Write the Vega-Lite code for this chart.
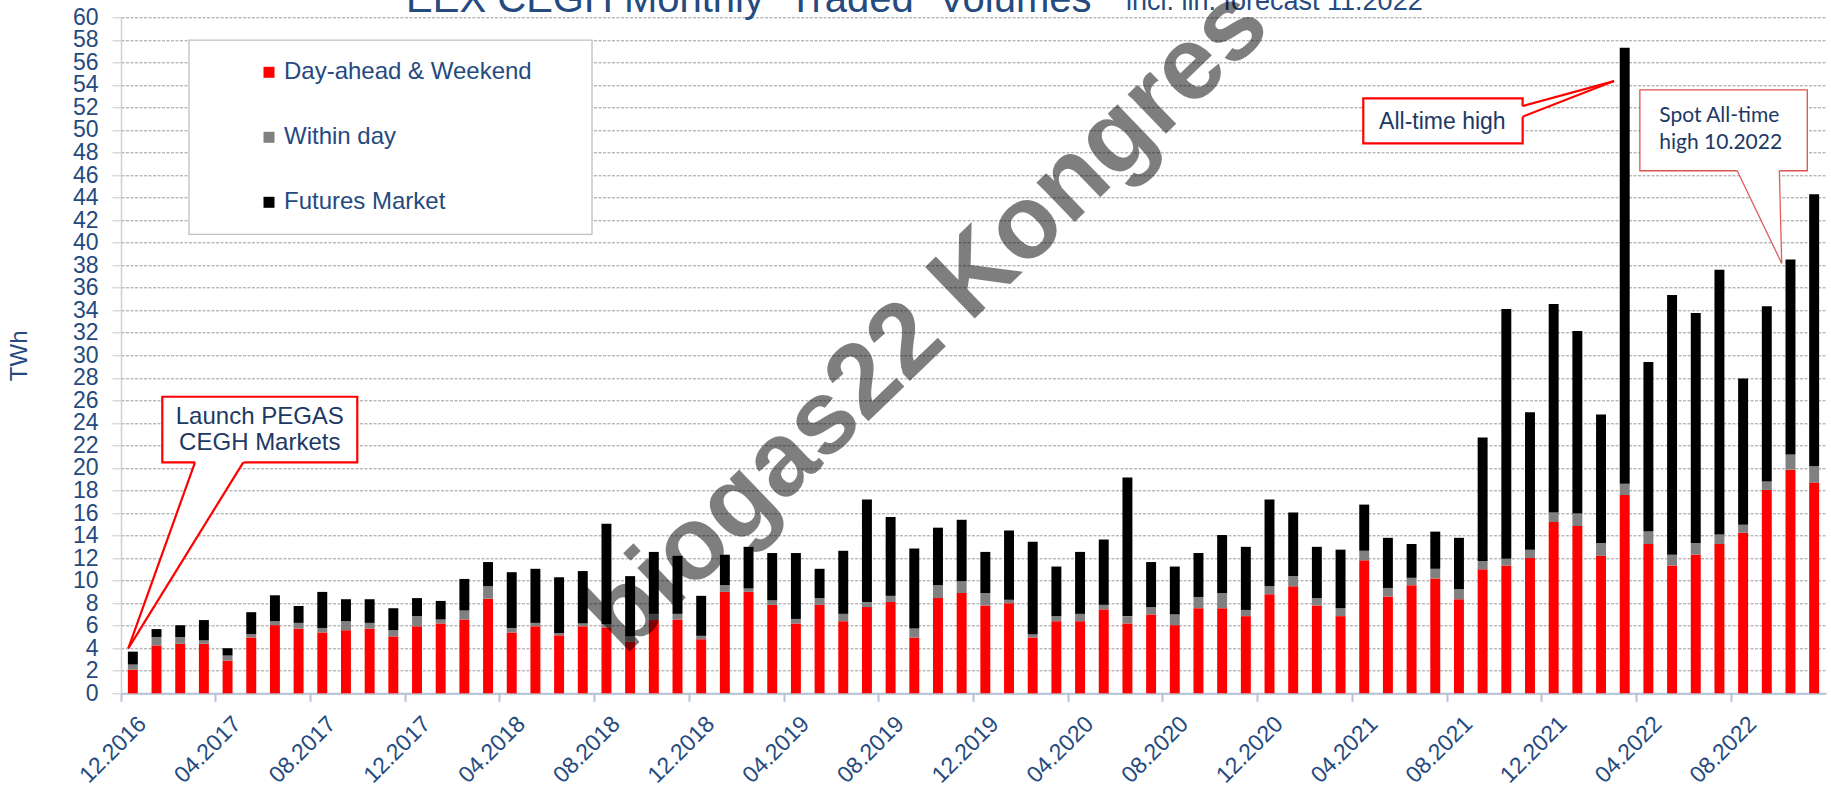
{
  "$schema": "https://vega.github.io/schema/vega-lite/v6.json",
  "width": 1705,
  "height": 676,
  "autosize": {"type": "none"},
  "padding": {"left": 121, "top": 17.3, "right": 5, "bottom": 95.7},
  "background": "white",
  "config": {
    "view": {"stroke": null},
    "font": "Liberation Sans",
    "axis": {"labelFont": "Liberation Sans", "titleFont": "Liberation Sans"},
    "legend": {"labelFont": "Liberation Sans"}
  },
  "resolve": {"scale": {"x": "independent"}},
  "layer": [
    {
      "data": {"values": [
        {"m":"12.2016","s":"Day-ahead & Weekend","k":1,"v":2.1},{"m":"12.2016","s":"Within day","k":2,"v":0.45},{"m":"12.2016","s":"Futures Market","k":3,"v":1.15},
        {"m":"01.2017","s":"Day-ahead & Weekend","k":1,"v":4.25},{"m":"01.2017","s":"Within day","k":2,"v":0.75},{"m":"01.2017","s":"Futures Market","k":3,"v":0.7},
        {"m":"02.2017","s":"Day-ahead & Weekend","k":1,"v":4.4},{"m":"02.2017","s":"Within day","k":2,"v":0.6},{"m":"02.2017","s":"Futures Market","k":3,"v":1.05},
        {"m":"03.2017","s":"Day-ahead & Weekend","k":1,"v":4.4},{"m":"03.2017","s":"Within day","k":2,"v":0.3},{"m":"03.2017","s":"Futures Market","k":3,"v":1.8},
        {"m":"04.2017","s":"Day-ahead & Weekend","k":1,"v":2.9},{"m":"04.2017","s":"Within day","k":2,"v":0.45},{"m":"04.2017","s":"Futures Market","k":3,"v":0.65},
        {"m":"05.2017","s":"Day-ahead & Weekend","k":1,"v":4.95},{"m":"05.2017","s":"Within day","k":2,"v":0.3},{"m":"05.2017","s":"Futures Market","k":3,"v":1.95},
        {"m":"06.2017","s":"Day-ahead & Weekend","k":1,"v":6.05},{"m":"06.2017","s":"Within day","k":2,"v":0.35},{"m":"06.2017","s":"Futures Market","k":3,"v":2.3},
        {"m":"07.2017","s":"Day-ahead & Weekend","k":1,"v":5.75},{"m":"07.2017","s":"Within day","k":2,"v":0.5},{"m":"07.2017","s":"Futures Market","k":3,"v":1.5},
        {"m":"08.2017","s":"Day-ahead & Weekend","k":1,"v":5.4},{"m":"08.2017","s":"Within day","k":2,"v":0.4},{"m":"08.2017","s":"Futures Market","k":3,"v":3.2},
        {"m":"09.2017","s":"Day-ahead & Weekend","k":1,"v":5.6},{"m":"09.2017","s":"Within day","k":2,"v":0.8},{"m":"09.2017","s":"Futures Market","k":3,"v":1.95},
        {"m":"10.2017","s":"Day-ahead & Weekend","k":1,"v":5.75},{"m":"10.2017","s":"Within day","k":2,"v":0.5},{"m":"10.2017","s":"Futures Market","k":3,"v":2.1},
        {"m":"11.2017","s":"Day-ahead & Weekend","k":1,"v":5.05},{"m":"11.2017","s":"Within day","k":2,"v":0.55},{"m":"11.2017","s":"Futures Market","k":3,"v":1.95},
        {"m":"12.2017","s":"Day-ahead & Weekend","k":1,"v":5.95},{"m":"12.2017","s":"Within day","k":2,"v":0.9},{"m":"12.2017","s":"Futures Market","k":3,"v":1.6},
        {"m":"01.2018","s":"Day-ahead & Weekend","k":1,"v":6.2},{"m":"01.2018","s":"Within day","k":2,"v":0.35},{"m":"01.2018","s":"Futures Market","k":3,"v":1.65},
        {"m":"02.2018","s":"Day-ahead & Weekend","k":1,"v":6.55},{"m":"02.2018","s":"Within day","k":2,"v":0.8},{"m":"02.2018","s":"Futures Market","k":3,"v":2.8},
        {"m":"03.2018","s":"Day-ahead & Weekend","k":1,"v":8.4},{"m":"03.2018","s":"Within day","k":2,"v":1.1},{"m":"03.2018","s":"Futures Market","k":3,"v":2.15},
        {"m":"04.2018","s":"Day-ahead & Weekend","k":1,"v":5.4},{"m":"04.2018","s":"Within day","k":2,"v":0.4},{"m":"04.2018","s":"Futures Market","k":3,"v":4.95},
        {"m":"05.2018","s":"Day-ahead & Weekend","k":1,"v":5.95},{"m":"05.2018","s":"Within day","k":2,"v":0.3},{"m":"05.2018","s":"Futures Market","k":3,"v":4.8},
        {"m":"06.2018","s":"Day-ahead & Weekend","k":1,"v":5.15},{"m":"06.2018","s":"Within day","k":2,"v":0.2},{"m":"06.2018","s":"Futures Market","k":3,"v":4.95},
        {"m":"07.2018","s":"Day-ahead & Weekend","k":1,"v":5.95},{"m":"07.2018","s":"Within day","k":2,"v":0.25},{"m":"07.2018","s":"Futures Market","k":3,"v":4.65},
        {"m":"08.2018","s":"Day-ahead & Weekend","k":1,"v":5.85},{"m":"08.2018","s":"Within day","k":2,"v":0.3},{"m":"08.2018","s":"Futures Market","k":3,"v":8.9},
        {"m":"09.2018","s":"Day-ahead & Weekend","k":1,"v":4.6},{"m":"09.2018","s":"Within day","k":2,"v":0.45},{"m":"09.2018","s":"Futures Market","k":3,"v":5.35},
        {"m":"10.2018","s":"Day-ahead & Weekend","k":1,"v":6.5},{"m":"10.2018","s":"Within day","k":2,"v":0.55},{"m":"10.2018","s":"Futures Market","k":3,"v":5.5},
        {"m":"11.2018","s":"Day-ahead & Weekend","k":1,"v":6.55},{"m":"11.2018","s":"Within day","k":2,"v":0.5},{"m":"11.2018","s":"Futures Market","k":3,"v":5.15},
        {"m":"12.2018","s":"Day-ahead & Weekend","k":1,"v":4.8},{"m":"12.2018","s":"Within day","k":2,"v":0.3},{"m":"12.2018","s":"Futures Market","k":3,"v":3.55},
        {"m":"01.2019","s":"Day-ahead & Weekend","k":1,"v":9.0},{"m":"01.2019","s":"Within day","k":2,"v":0.6},{"m":"01.2019","s":"Futures Market","k":3,"v":2.7},
        {"m":"02.2019","s":"Day-ahead & Weekend","k":1,"v":9.0},{"m":"02.2019","s":"Within day","k":2,"v":0.3},{"m":"02.2019","s":"Futures Market","k":3,"v":3.7},
        {"m":"03.2019","s":"Day-ahead & Weekend","k":1,"v":7.85},{"m":"03.2019","s":"Within day","k":2,"v":0.4},{"m":"03.2019","s":"Futures Market","k":3,"v":4.2},
        {"m":"04.2019","s":"Day-ahead & Weekend","k":1,"v":6.2},{"m":"04.2019","s":"Within day","k":2,"v":0.4},{"m":"04.2019","s":"Futures Market","k":3,"v":5.85},
        {"m":"05.2019","s":"Day-ahead & Weekend","k":1,"v":7.85},{"m":"05.2019","s":"Within day","k":2,"v":0.6},{"m":"05.2019","s":"Futures Market","k":3,"v":2.6},
        {"m":"06.2019","s":"Day-ahead & Weekend","k":1,"v":6.4},{"m":"06.2019","s":"Within day","k":2,"v":0.65},{"m":"06.2019","s":"Futures Market","k":3,"v":5.6},
        {"m":"07.2019","s":"Day-ahead & Weekend","k":1,"v":7.65},{"m":"07.2019","s":"Within day","k":2,"v":0.45},{"m":"07.2019","s":"Futures Market","k":3,"v":9.1},
        {"m":"08.2019","s":"Day-ahead & Weekend","k":1,"v":8.1},{"m":"08.2019","s":"Within day","k":2,"v":0.55},{"m":"08.2019","s":"Futures Market","k":3,"v":7.0},
        {"m":"09.2019","s":"Day-ahead & Weekend","k":1,"v":4.95},{"m":"09.2019","s":"Within day","k":2,"v":0.8},{"m":"09.2019","s":"Futures Market","k":3,"v":7.1},
        {"m":"10.2019","s":"Day-ahead & Weekend","k":1,"v":8.45},{"m":"10.2019","s":"Within day","k":2,"v":1.15},{"m":"10.2019","s":"Futures Market","k":3,"v":5.1},
        {"m":"11.2019","s":"Day-ahead & Weekend","k":1,"v":8.9},{"m":"11.2019","s":"Within day","k":2,"v":1.05},{"m":"11.2019","s":"Futures Market","k":3,"v":5.45},
        {"m":"12.2019","s":"Day-ahead & Weekend","k":1,"v":7.8},{"m":"12.2019","s":"Within day","k":2,"v":1.1},{"m":"12.2019","s":"Futures Market","k":3,"v":3.65},
        {"m":"01.2020","s":"Day-ahead & Weekend","k":1,"v":8.0},{"m":"01.2020","s":"Within day","k":2,"v":0.3},{"m":"01.2020","s":"Futures Market","k":3,"v":6.15},
        {"m":"02.2020","s":"Day-ahead & Weekend","k":1,"v":4.95},{"m":"02.2020","s":"Within day","k":2,"v":0.3},{"m":"02.2020","s":"Futures Market","k":3,"v":8.2},
        {"m":"03.2020","s":"Day-ahead & Weekend","k":1,"v":6.4},{"m":"03.2020","s":"Within day","k":2,"v":0.45},{"m":"03.2020","s":"Futures Market","k":3,"v":4.4},
        {"m":"04.2020","s":"Day-ahead & Weekend","k":1,"v":6.4},{"m":"04.2020","s":"Within day","k":2,"v":0.65},{"m":"04.2020","s":"Futures Market","k":3,"v":5.5},
        {"m":"05.2020","s":"Day-ahead & Weekend","k":1,"v":7.45},{"m":"05.2020","s":"Within day","k":2,"v":0.4},{"m":"05.2020","s":"Futures Market","k":3,"v":5.8},
        {"m":"06.2020","s":"Day-ahead & Weekend","k":1,"v":6.2},{"m":"06.2020","s":"Within day","k":2,"v":0.65},{"m":"06.2020","s":"Futures Market","k":3,"v":12.3},
        {"m":"07.2020","s":"Day-ahead & Weekend","k":1,"v":7.0},{"m":"07.2020","s":"Within day","k":2,"v":0.65},{"m":"07.2020","s":"Futures Market","k":3,"v":4.0},
        {"m":"08.2020","s":"Day-ahead & Weekend","k":1,"v":6.05},{"m":"08.2020","s":"Within day","k":2,"v":0.95},{"m":"08.2020","s":"Futures Market","k":3,"v":4.25},
        {"m":"09.2020","s":"Day-ahead & Weekend","k":1,"v":7.55},{"m":"09.2020","s":"Within day","k":2,"v":1.0},{"m":"09.2020","s":"Futures Market","k":3,"v":3.9},
        {"m":"10.2020","s":"Day-ahead & Weekend","k":1,"v":7.55},{"m":"10.2020","s":"Within day","k":2,"v":1.35},{"m":"10.2020","s":"Futures Market","k":3,"v":5.15},
        {"m":"11.2020","s":"Day-ahead & Weekend","k":1,"v":6.85},{"m":"11.2020","s":"Within day","k":2,"v":0.55},{"m":"11.2020","s":"Futures Market","k":3,"v":5.6},
        {"m":"12.2020","s":"Day-ahead & Weekend","k":1,"v":8.8},{"m":"12.2020","s":"Within day","k":2,"v":0.7},{"m":"12.2020","s":"Futures Market","k":3,"v":7.7},
        {"m":"01.2021","s":"Day-ahead & Weekend","k":1,"v":9.5},{"m":"01.2021","s":"Within day","k":2,"v":0.9},{"m":"01.2021","s":"Futures Market","k":3,"v":5.65},
        {"m":"02.2021","s":"Day-ahead & Weekend","k":1,"v":7.8},{"m":"02.2021","s":"Within day","k":2,"v":0.65},{"m":"02.2021","s":"Futures Market","k":3,"v":4.55},
        {"m":"03.2021","s":"Day-ahead & Weekend","k":1,"v":6.85},{"m":"03.2021","s":"Within day","k":2,"v":0.7},{"m":"03.2021","s":"Futures Market","k":3,"v":5.2},
        {"m":"04.2021","s":"Day-ahead & Weekend","k":1,"v":11.8},{"m":"04.2021","s":"Within day","k":2,"v":0.85},{"m":"04.2021","s":"Futures Market","k":3,"v":4.1},
        {"m":"05.2021","s":"Day-ahead & Weekend","k":1,"v":8.6},{"m":"05.2021","s":"Within day","k":2,"v":0.75},{"m":"05.2021","s":"Futures Market","k":3,"v":4.45},
        {"m":"06.2021","s":"Day-ahead & Weekend","k":1,"v":9.6},{"m":"06.2021","s":"Within day","k":2,"v":0.65},{"m":"06.2021","s":"Futures Market","k":3,"v":3.0},
        {"m":"07.2021","s":"Day-ahead & Weekend","k":1,"v":10.2},{"m":"07.2021","s":"Within day","k":2,"v":0.85},{"m":"07.2021","s":"Futures Market","k":3,"v":3.3},
        {"m":"08.2021","s":"Day-ahead & Weekend","k":1,"v":8.35},{"m":"08.2021","s":"Within day","k":2,"v":0.9},{"m":"08.2021","s":"Futures Market","k":3,"v":4.55},
        {"m":"09.2021","s":"Day-ahead & Weekend","k":1,"v":11.0},{"m":"09.2021","s":"Within day","k":2,"v":0.75},{"m":"09.2021","s":"Futures Market","k":3,"v":10.95},
        {"m":"10.2021","s":"Day-ahead & Weekend","k":1,"v":11.35},{"m":"10.2021","s":"Within day","k":2,"v":0.6},{"m":"10.2021","s":"Futures Market","k":3,"v":22.15},
        {"m":"11.2021","s":"Day-ahead & Weekend","k":1,"v":12.0},{"m":"11.2021","s":"Within day","k":2,"v":0.75},{"m":"11.2021","s":"Futures Market","k":3,"v":12.2},
        {"m":"12.2021","s":"Day-ahead & Weekend","k":1,"v":15.2},{"m":"12.2021","s":"Within day","k":2,"v":0.85},{"m":"12.2021","s":"Futures Market","k":3,"v":18.5},
        {"m":"01.2022","s":"Day-ahead & Weekend","k":1,"v":14.85},{"m":"01.2022","s":"Within day","k":2,"v":1.1},{"m":"01.2022","s":"Futures Market","k":3,"v":16.2},
        {"m":"02.2022","s":"Day-ahead & Weekend","k":1,"v":12.2},{"m":"02.2022","s":"Within day","k":2,"v":1.15},{"m":"02.2022","s":"Futures Market","k":3,"v":11.4},
        {"m":"03.2022","s":"Day-ahead & Weekend","k":1,"v":17.6},{"m":"03.2022","s":"Within day","k":2,"v":1.0},{"m":"03.2022","s":"Futures Market","k":3,"v":38.7},
        {"m":"04.2022","s":"Day-ahead & Weekend","k":1,"v":13.25},{"m":"04.2022","s":"Within day","k":2,"v":1.1},{"m":"04.2022","s":"Futures Market","k":3,"v":15.05},
        {"m":"05.2022","s":"Day-ahead & Weekend","k":1,"v":11.35},{"m":"05.2022","s":"Within day","k":2,"v":0.95},{"m":"05.2022","s":"Futures Market","k":3,"v":23.05},
        {"m":"06.2022","s":"Day-ahead & Weekend","k":1,"v":12.3},{"m":"06.2022","s":"Within day","k":2,"v":1.05},{"m":"06.2022","s":"Futures Market","k":3,"v":20.4},
        {"m":"07.2022","s":"Day-ahead & Weekend","k":1,"v":13.25},{"m":"07.2022","s":"Within day","k":2,"v":0.85},{"m":"07.2022","s":"Futures Market","k":3,"v":23.5},
        {"m":"08.2022","s":"Day-ahead & Weekend","k":1,"v":14.25},{"m":"08.2022","s":"Within day","k":2,"v":0.7},{"m":"08.2022","s":"Futures Market","k":3,"v":13.0},
        {"m":"09.2022","s":"Day-ahead & Weekend","k":1,"v":18.05},{"m":"09.2022","s":"Within day","k":2,"v":0.75},{"m":"09.2022","s":"Futures Market","k":3,"v":15.55},
        {"m":"10.2022","s":"Day-ahead & Weekend","k":1,"v":19.85},{"m":"10.2022","s":"Within day","k":2,"v":1.35},{"m":"10.2022","s":"Futures Market","k":3,"v":17.3},
        {"m":"11.2022","s":"Day-ahead & Weekend","k":1,"v":18.7},{"m":"11.2022","s":"Within day","k":2,"v":1.45},{"m":"11.2022","s":"Futures Market","k":3,"v":24.15}
      ]},
      "mark": {"type": "bar", "width": {"band": 0.42}},
      "encoding": {
        "x": {
          "field": "m", "type": "ordinal", "sort": null,
          "scale": {"paddingInner": 0, "paddingOuter": 0},
          "axis": {
            "title": null,
            "values": ["12.2016","04.2017","08.2017","12.2017","04.2018","08.2018","12.2018","04.2019","08.2019","12.2019","04.2020","08.2020","12.2020","04.2021","08.2021","12.2021","04.2022","08.2022"],
            "bandPosition": 0,
            "labelAngle": -45,
            "labelAlign": "right",
            "labelBaseline": "top",
            "labelFontSize": 23,
            "labelColor": "#254A7E",
            "labelPadding": 11,
            "labelOffset": 2,
            "labelOverlap": false,
            "tickSize": 8,
            "tickWidth": 2,
            "tickColor": "#B4C2D6",
            "domainColor": "#B4C2D6",
            "domainWidth": 2,
            "grid": false
          }
        },
        "y": {
          "field": "v", "type": "quantitative", "stack": "zero",
          "scale": {"domain": [0, 60], "nice": false},
          "title": "TWh",
          "axis": {
            "values": [0,2,4,6,8,10,12,14,16,18,20,22,24,26,28,30,32,34,36,38,40,42,44,46,48,50,52,54,56,58,60],
            "tickCount": 40,
            "labelFontSize": 23,
            "labelColor": "#254A7E",
            "labelPadding": 14,
            "labelOverlap": false,
            "tickSize": 9,
            "tickColor": "#C8C8C8",
            "domainColor": "#D0D0D0",
            "domainWidth": 1.5,
            "grid": true,
            "gridColor": "#9A9A9A",
            "gridDash": [3, 1.5],
            "gridWidth": 1,
            "titleFontSize": 24,
            "titleFontWeight": "normal",
            "titleColor": "#254A7E",
            "titleX": -102,
            "titleY": 338,
            "titleAngle": -90,
            "titleAlign": "center",
            "titleBaseline": "middle"
          }
        },
        "color": {
          "field": "s", "type": "nominal",
          "scale": {"domain": ["Day-ahead & Weekend", "Within day", "Futures Market"], "range": ["#FF0000", "#808080", "#000000"]},
          "legend": {
            "orient": "none",
            "legendX": 136,
            "legendY": 43,
            "direction": "vertical",
            "title": null,
            "padding": 0,
            "labelFontSize": 24,
            "labelColor": "#254A7E",
            "labelLimit": 0,
            "labelOffset": 3,
            "symbolType": "square",
            "symbolSize": 121,
            "symbolStrokeWidth": 0,
            "symbolOpacity": 1,
            "rowPadding": 41
          }
        },
        "order": {"field": "k", "type": "quantitative"}
      }
    },
    {
      "data": {"values": [{"x": 2.87, "x2": 19.89, "y": 57.98, "y2": 40.74}]},
      "mark": {"type": "rect", "fill": "white", "stroke": "#C0C0C0", "strokeWidth": 1.3},
      "encoding": {
        "x": {"field": "x", "type": "quantitative", "scale": {"domain": [0, 72], "nice": false, "zero": false}, "axis": null},
        "x2": {"field": "x2"},
        "y": {"field": "y", "type": "quantitative", "scale": {"domain": [0, 60], "nice": false}, "title": "TWh"},
        "y2": {"field": "y2"}
      }
    },
    {
      "data": {"values": [{"x": 1.744, "x2": 9.978, "y": 26.32, "y2": 20.50}]},
      "mark": {"type": "rect", "fill": "white", "stroke": "#FF0000", "strokeWidth": 2.2},
      "encoding": {
        "x": {"field": "x", "type": "quantitative", "scale": {"domain": [0, 72], "nice": false, "zero": false}, "axis": null},
        "x2": {"field": "x2"},
        "y": {"field": "y", "type": "quantitative", "scale": {"domain": [0, 60], "nice": false}, "title": "TWh"},
        "y2": {"field": "y2"}
      }
    },
    {
      "data": {"values": [{"y": 20.75, "x": 3.168, "x2": 5.238}, {"y": 3.99, "x": 0.308, "x2": 0.308}]},
      "mark": {"type": "area", "orient": "horizontal", "fill": "white", "opacity": 1},
      "encoding": {
        "y": {"field": "y", "type": "quantitative", "scale": {"domain": [0, 60], "nice": false}, "title": "TWh"},
        "x": {"field": "x", "type": "quantitative", "scale": {"domain": [0, 72], "nice": false, "zero": false}, "axis": null},
        "x2": {"field": "x2"}
      }
    },
    {
      "data": {"values": [{"x": 3.125, "y": 20.50, "x2": 0.308, "y2": 3.99}, {"x": 5.164, "y": 20.50, "x2": 0.308, "y2": 3.99}]},
      "mark": {"type": "rule", "stroke": "#FF0000", "strokeWidth": 2.2},
      "encoding": {
        "x": {"field": "x", "type": "quantitative", "scale": {"domain": [0, 72], "nice": false, "zero": false}, "axis": null},
        "x2": {"field": "x2"},
        "y": {"field": "y", "type": "quantitative", "scale": {"domain": [0, 60], "nice": false}, "title": "TWh"},
        "y2": {"field": "y2"}
      }
    },
    {
      "data": {"values": [{"x": 5.861, "y": 24.55, "t": "Launch PEGAS"}, {"x": 5.861, "y": 22.19, "t": "CEGH Markets"}]},
      "mark": {"type": "text", "align": "center", "baseline": "middle", "font": "Liberation Sans", "fontSize": 24, "fill": "#203864"},
      "encoding": {
        "x": {"field": "x", "type": "quantitative", "scale": {"domain": [0, 72], "nice": false, "zero": false}, "axis": null},
        "y": {"field": "y", "type": "quantitative", "scale": {"domain": [0, 60], "nice": false}, "title": "TWh"},
        "text": {"field": "t"}
      }
    },
    {
      "data": {"values": [{"x": 52.46, "x2": 59.19, "y": 52.81, "y2": 48.81}]},
      "mark": {"type": "rect", "fill": "white", "stroke": "#FF0000", "strokeWidth": 2.2},
      "encoding": {
        "x": {"field": "x", "type": "quantitative", "scale": {"domain": [0, 72], "nice": false, "zero": false}, "axis": null},
        "x2": {"field": "x2"},
        "y": {"field": "y", "type": "quantitative", "scale": {"domain": [0, 60], "nice": false}, "title": "TWh"},
        "y2": {"field": "y2"}
      }
    },
    {
      "data": {"values": [{"x": 59.09, "y": 51.10, "y2": 52.06}, {"x": 63.05, "y": 54.34, "y2": 54.34}]},
      "mark": {"type": "area", "orient": "vertical", "fill": "white", "opacity": 1},
      "encoding": {
        "x": {"field": "x", "type": "quantitative", "scale": {"domain": [0, 72], "nice": false, "zero": false}, "axis": null},
        "y": {"field": "y", "type": "quantitative", "scale": {"domain": [0, 60], "nice": false}, "title": "TWh"},
        "y2": {"field": "y2"}
      }
    },
    {
      "data": {"values": [{"x": 59.19, "y": 52.12, "x2": 63.05, "y2": 54.34}, {"x": 59.19, "y": 51.18, "x2": 63.05, "y2": 54.34}]},
      "mark": {"type": "rule", "stroke": "#FF0000", "strokeWidth": 2.2},
      "encoding": {
        "x": {"field": "x", "type": "quantitative", "scale": {"domain": [0, 72], "nice": false, "zero": false}, "axis": null},
        "x2": {"field": "x2"},
        "y": {"field": "y", "type": "quantitative", "scale": {"domain": [0, 60], "nice": false}, "title": "TWh"},
        "y2": {"field": "y2"}
      }
    },
    {
      "data": {"values": [{"x": 55.80, "y": 50.73, "t": "All-time high"}]},
      "mark": {"type": "text", "align": "center", "baseline": "middle", "font": "Liberation Sans", "fontSize": 23, "fill": "#203864"},
      "encoding": {
        "x": {"field": "x", "type": "quantitative", "scale": {"domain": [0, 72], "nice": false, "zero": false}, "axis": null},
        "y": {"field": "y", "type": "quantitative", "scale": {"domain": [0, 60], "nice": false}, "title": "TWh"},
        "text": {"field": "t"}
      }
    },
    {
      "data": {"values": [{"x": 64.14, "x2": 71.21, "y": 53.55, "y2": 46.38}]},
      "mark": {"type": "rect", "fill": "white", "stroke": "#D9534F", "strokeWidth": 1.3},
      "encoding": {
        "x": {"field": "x", "type": "quantitative", "scale": {"domain": [0, 72], "nice": false, "zero": false}, "axis": null},
        "x2": {"field": "x2"},
        "y": {"field": "y", "type": "quantitative", "scale": {"domain": [0, 60], "nice": false}, "title": "TWh"},
        "y2": {"field": "y2"}
      }
    },
    {
      "data": {"values": [{"y": 46.6, "x": 68.20, "x2": 70.027}, {"y": 38.16, "x": 70.13, "x2": 70.13}]},
      "mark": {"type": "area", "orient": "horizontal", "fill": "white", "opacity": 1},
      "encoding": {
        "y": {"field": "y", "type": "quantitative", "scale": {"domain": [0, 60], "nice": false}, "title": "TWh"},
        "x": {"field": "x", "type": "quantitative", "scale": {"domain": [0, 72], "nice": false, "zero": false}, "axis": null},
        "x2": {"field": "x2"}
      }
    },
    {
      "data": {"values": [{"x": 68.25, "y": 46.38, "x2": 70.13, "y2": 38.16}, {"x": 70.03, "y": 46.38, "x2": 70.13, "y2": 38.16}]},
      "mark": {"type": "rule", "stroke": "#E05A5A", "strokeWidth": 1.3},
      "encoding": {
        "x": {"field": "x", "type": "quantitative", "scale": {"domain": [0, 72], "nice": false, "zero": false}, "axis": null},
        "x2": {"field": "x2"},
        "y": {"field": "y", "type": "quantitative", "scale": {"domain": [0, 60], "nice": false}, "title": "TWh"},
        "y2": {"field": "y2"}
      }
    },
    {
      "data": {"values": [{"x": 64.96, "y": 51.24, "t": "Spot All-time"}, {"x": 64.96, "y": 48.81, "t": "high 10.2022"}]},
      "mark": {"type": "text", "align": "left", "baseline": "middle", "font": "Lato", "fontSize": 21, "fill": "#203864"},
      "encoding": {
        "x": {"field": "x", "type": "quantitative", "scale": {"domain": [0, 72], "nice": false, "zero": false}, "axis": null},
        "y": {"field": "y", "type": "quantitative", "scale": {"domain": [0, 60], "nice": false}, "title": "TWh"},
        "text": {"field": "t"}
      }
    },
    {
      "data": {"values": [{"x": 12.04, "y": 60.51, "t": "EEX CEGH Monthly “Traded” Volumes"}]},
      "mark": {"type": "text", "align": "left", "baseline": "alphabetic", "font": "Liberation Sans", "fontSize": 40, "fill": "#254A7E"},
      "encoding": {
        "x": {"field": "x", "type": "quantitative", "scale": {"domain": [0, 72], "nice": false, "zero": false}, "axis": null},
        "y": {"field": "y", "type": "quantitative", "scale": {"domain": [0, 60], "nice": false}, "title": "TWh"},
        "text": {"field": "t"}
      }
    },
    {
      "data": {"values": [{"x": 42.44, "y": 60.69, "t": "incl. lin. forecast 11.2022"}]},
      "mark": {"type": "text", "align": "left", "baseline": "alphabetic", "font": "Liberation Sans", "fontSize": 27, "fill": "#254A7E"},
      "encoding": {
        "x": {"field": "x", "type": "quantitative", "scale": {"domain": [0, 72], "nice": false, "zero": false}, "axis": null},
        "y": {"field": "y", "type": "quantitative", "scale": {"domain": [0, 60], "nice": false}, "title": "TWh"},
        "text": {"field": "t"}
      }
    },
    {
      "data": {"values": [{"x": 34.96, "y": 31.05, "t": "biogas22 Kongres"}]},
      "mark": {"type": "text", "align": "center", "baseline": "alphabetic", "angle": -44, "font": "Liberation Sans", "fontWeight": "bold", "fontSize": 104, "fill": "#000000", "opacity": 0.5},
      "encoding": {
        "x": {"field": "x", "type": "quantitative", "scale": {"domain": [0, 72], "nice": false, "zero": false}, "axis": null},
        "y": {"field": "y", "type": "quantitative", "scale": {"domain": [0, 60], "nice": false}, "title": "TWh"},
        "text": {"field": "t"}
      }
    }
  ]
}
